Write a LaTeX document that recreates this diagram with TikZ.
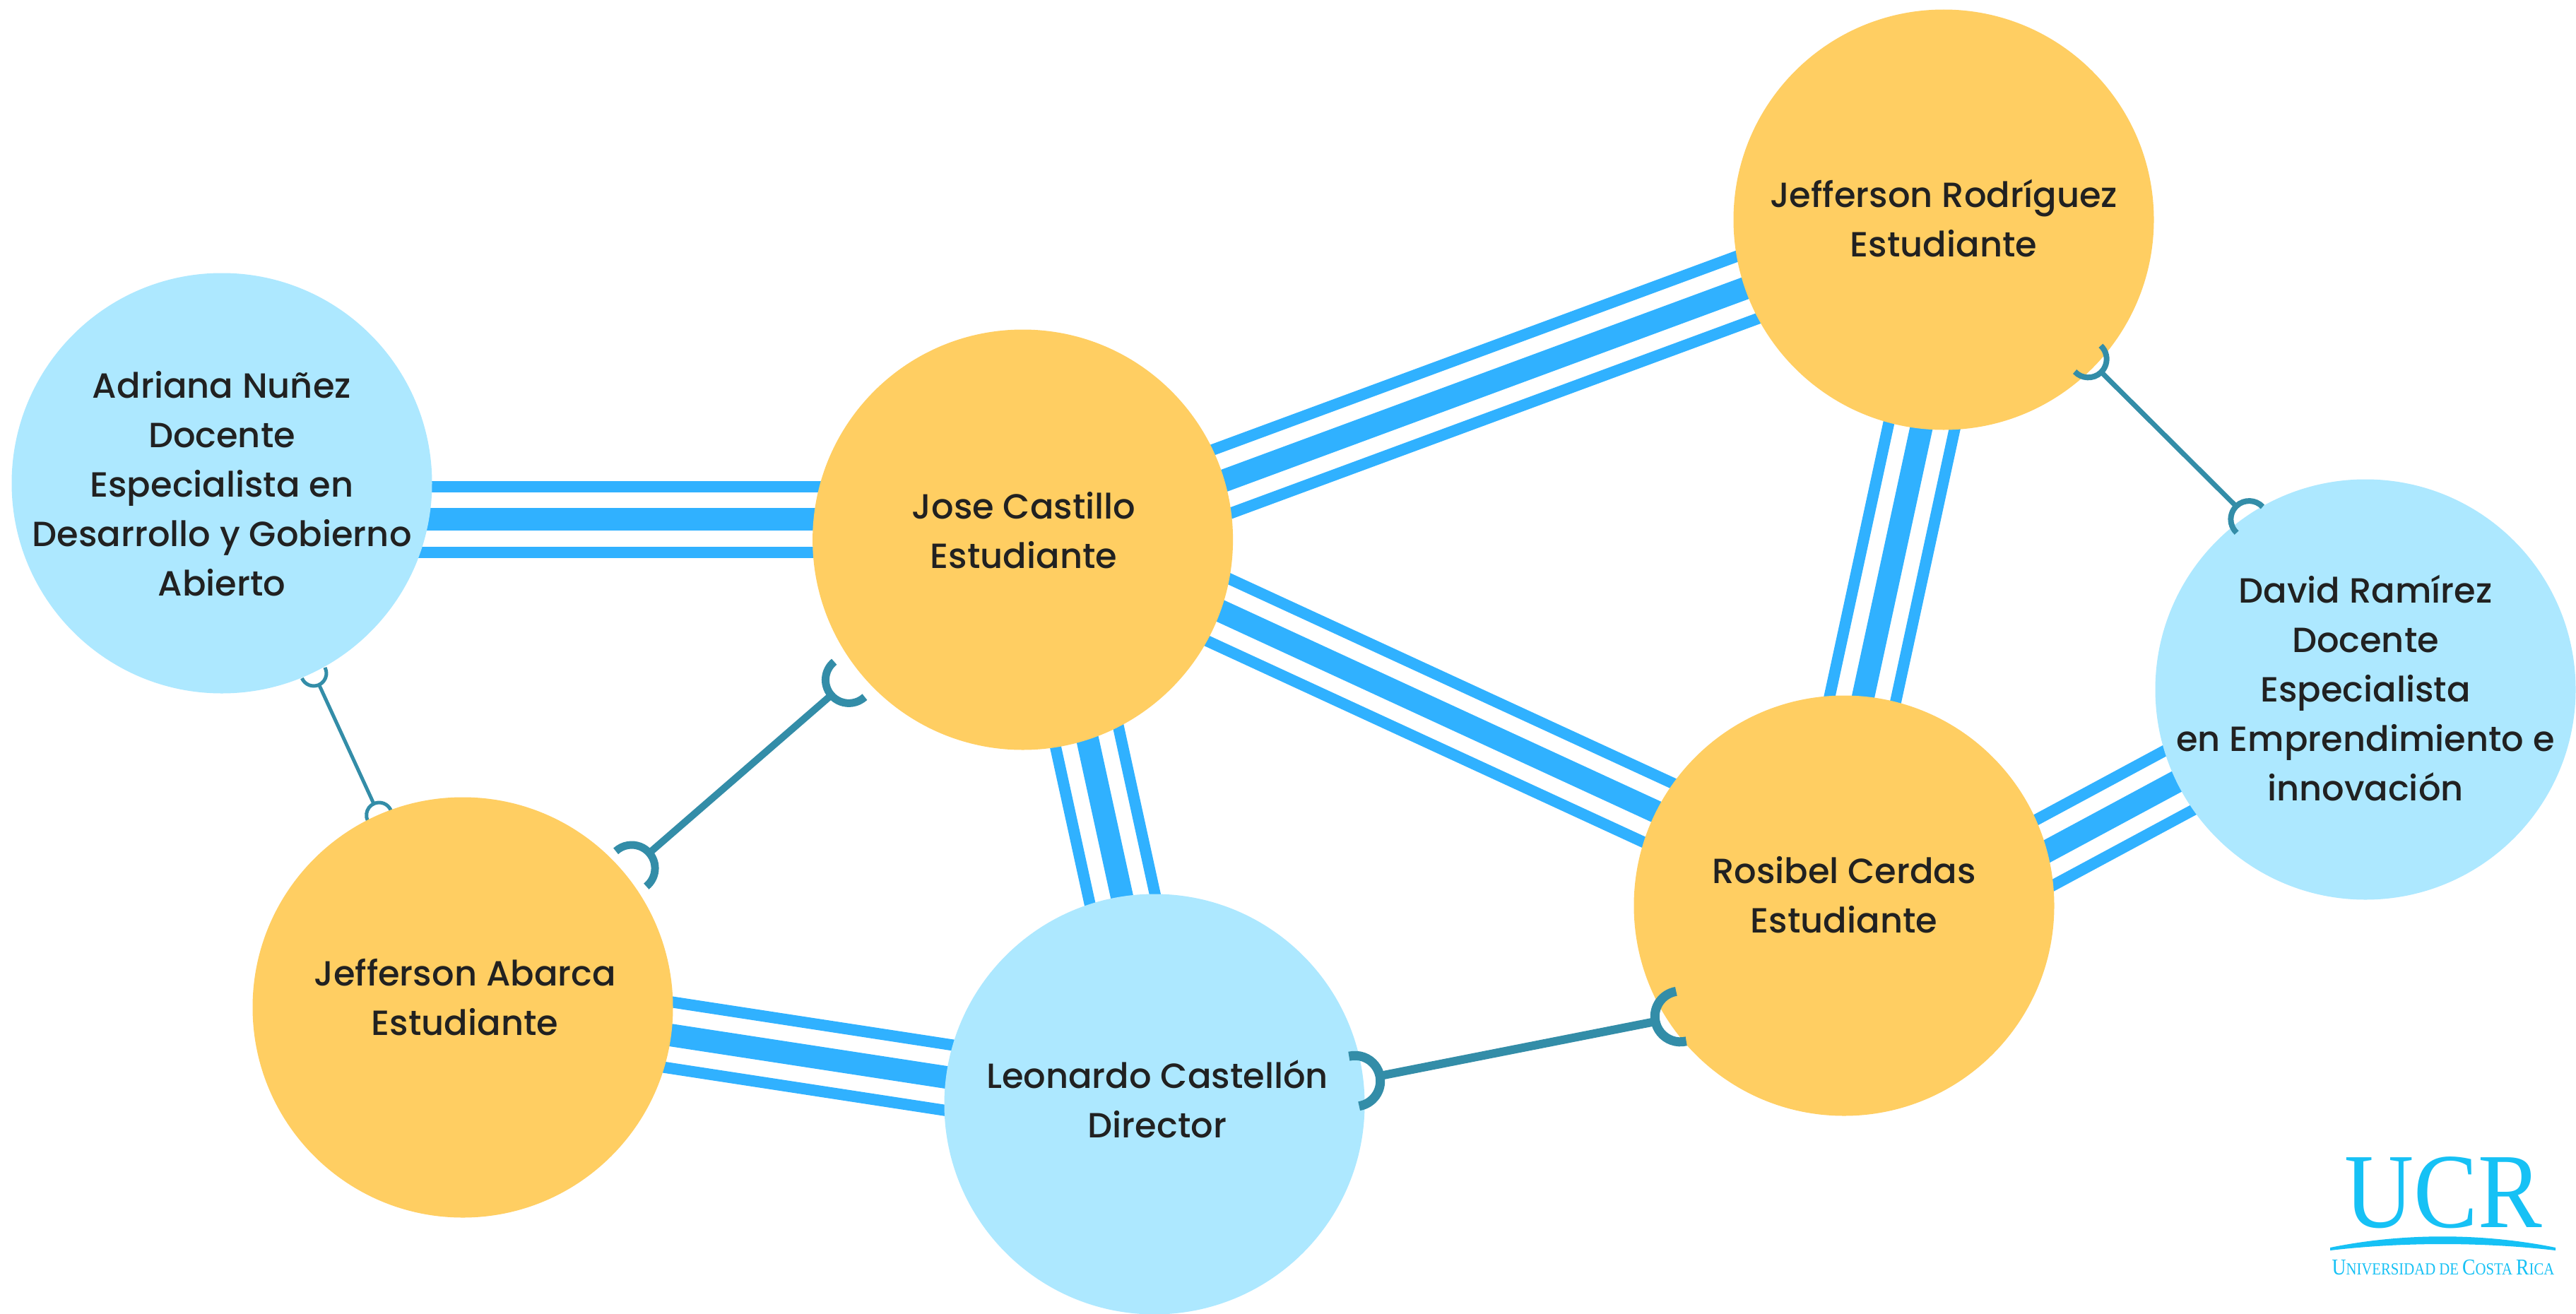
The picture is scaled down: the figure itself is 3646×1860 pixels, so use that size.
\documentclass[tikz,border=0pt]{standalone}
\usepackage{fontspec}
\setmainfont{Poppins}[UprightFont={* Medium}]
\newfontfamily\ucrfont{Liberation Serif}
\usetikzlibrary{calc}
\definecolor{lightb}{HTML}{ADE8FF}
\definecolor{gold}{HTML}{FFCE62}
\definecolor{band}{HTML}{30B1FF}
\definecolor{teal}{HTML}{338DA8}
\definecolor{ink}{HTML}{212121}
\definecolor{ucrb}{HTML}{16C1F5}
\pgfdeclarelayer{back}
\pgfsetlayers{back,main}
\newcommand{\tripleLink}[4]{%
  \coordinate (tp) at ([shift={(#2)}]#1.center);
  \coordinate (tq) at ([shift={(#4)}]#3.center);
  \draw[thinband] ($(tp)!46.5pt!90:(tq)$) -- ($(tq)!46.5pt!-90:(tp)$);
  \draw[thickband] (tp) -- (tq);
  \draw[thinband] ($(tp)!46.5pt!-90:(tq)$) -- ($(tq)!46.5pt!90:(tp)$);
}
\newcommand{\hookEnd}[4]{%
  \draw[teal,line width=#4pt] (#1) ++({#2+180}:#3pt) ++({#2-92}:#3pt) arc[start angle=#2-92, end angle=#2+92, radius=#3pt];
}
\tikzset{
  x=1pt,y=1pt,
  person/.style={circle,minimum size=595pt,inner sep=0pt,outer sep=0pt},
  staff/.style={person,fill=lightb},
  student/.style={person,fill=gold},
  label text/.style={text=ink,align=center,inner sep=0pt,font=\fontsize{49.5}{70}\selectfont},
  thinband/.style={band,line width=16pt},
  thickband/.style={band,line width=32pt},
  hookline/.style={teal}
}
\begin{document}
\begin{tikzpicture}
\useasboundingbox (0,0) rectangle (3646,-1860);
\begin{pgfonlayer}{back}
\fill[white] (0,0) rectangle (3646,-1860);
\end{pgfonlayer}
% circles
\node[staff] (adriana) at (314,-684) {};
\node[student] (jose) at (1447.6,-764) {};
\node[student] (jr) at (2751,-311) {};
\node[staff] (david) at (3348,-976) {};
\node[student] (ros) at (2610,-1282) {};
\node[staff] (leo) at (1634,-1563) {};
\node[student] (abarca) at (655,-1426) {};
% texts
\node[label text] (tadriana) at (314,-685) {Adriana Nuñez\\Docente\\Especialista en\\Desarrollo y Gobierno\\Abierto};
\node[label text] (tjose) at (1449,-751) {Jose Castillo\\Estudiante};
\node[label text] (tjr) at (2751,-309) {Jefferson Rodríguez\\Estudiante};
\node[label text] (tdavid) at (3348,-974) {David Ramírez\\Docente\\Especialista\\en Emprendimiento e\\innovación};
\node[label text] (tros) at (2610,-1267) {Rosibel Cerdas\\Estudiante};
\node[label text] (tleo) at (1638,-1556) {Leonardo Castellón\\Director};
\node[label text] (tabarca) at (658,-1412) {Jefferson Abarca\\Estudiante};
% triple links (beneath the circles)
\begin{pgfonlayer}{back}
\tripleLink{adriana}{246,-51}{jose}{-247.6,29}
\tripleLink{jose}{229.7,63.2}{jr}{-224.7,-76.2}
\tripleLink{jose}{225.9,-75.9}{ros}{-212,108}
\tripleLink{jose}{78.9,-224.4}{leo}{-33.2,235}
\tripleLink{jr}{-19,-236.4}{ros}{14.6,238.4}
\tripleLink{ros}{234.5,48.6}{david}{-215.2,-102.3}
\tripleLink{abarca}{234,-29.9}{leo}{-235.4,28.9}
% thin hook link, partly hidden by the circles
\coordinate (hadriana) at ([shift={(137.6,-285.3)}]adriana.center);
\coordinate (habarcaA) at ([shift={(-126,288.3)}]abarca.center);
\draw[hookline,line width=5pt] (hadriana) -- (habarcaA);
\hookEnd{hadriana}{-65}{18}{5}
\hookEnd{habarcaA}{115}{18}{5}
\end{pgfonlayer}
% hook links on top
\coordinate (hleo) at ([shift={(319,40)}]leo.center);
\coordinate (hros) at ([shift={(-267,-164)}]ros.center);
\draw[hookline,line width=12pt] (hleo) -- (hros);
\hookEnd{hleo}{11.5}{36}{13}
\hookEnd{hros}{191.5}{36}{13}
\coordinate (hjr) at ([shift={(223,-215.7)}]jr.center);
\coordinate (hdavid) at ([shift={(-183,259.3)}]david.center);
\draw[hookline,line width=7pt] (hjr) -- (hdavid);
\hookEnd{hjr}{-45}{26}{8}
\hookEnd{hdavid}{135}{26}{8}
\coordinate (habarcaB) at ([shift={(264,218.6)}]abarca.center);
\coordinate (hjose) at ([shift={(-271.1,-220)}]jose.center);
\draw[hookline,line width=10pt] (habarcaB) -- (hjose);
\hookEnd{habarcaB}{40.9}{33}{11}
\hookEnd{hjose}{220.9}{33}{11}
% logo
\node[text=ucrb,inner sep=0pt,anchor=base,xscale=0.9] (ucr) at (3458,-1737) {\ucrfont\fontsize{151}{151}\selectfont UCR};
\fill[ucrb] (3298,-1766) .. controls (3400,-1745) and (3514,-1745) .. (3617,-1766) -- (3617,-1770) .. controls (3514,-1758) and (3400,-1758) .. (3298,-1770) -- cycle;
\node[text=ucrb,inner sep=0pt,anchor=base,xscale=0.863] (ucrname) at (3458,-1804) {\ucrfont\fontsize{24}{24}\selectfont{\fontsize{32}{32}\selectfont U}NIVERSIDAD DE {\fontsize{32}{32}\selectfont C}OSTA {\fontsize{32}{32}\selectfont R}ICA};
\end{tikzpicture}
\end{document}
